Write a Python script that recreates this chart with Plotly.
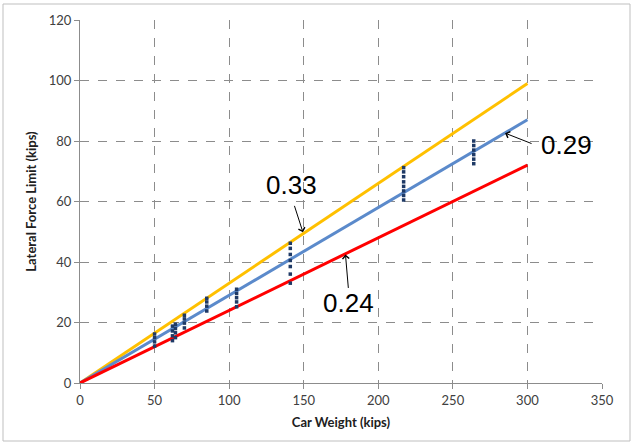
import plotly.graph_objects as go

# Measured data: car weight (kips) and lateral force limit (kips)
weight_50 = [50, 50, 50, 50]
force_50 = [12.2, 13.6, 15.0, 16.2]
weight_62 = [62, 62, 62, 62]
force_62 = [14.0, 15.6, 17.2, 18.8]
weight_64 = [64, 64, 64, 64]
force_64 = [15.0, 16.6, 18.0, 19.4]
weight_70 = [70, 70, 70, 70]
force_70 = [18.2, 19.8, 21.2, 22.4]
weight_85 = [85, 85, 85, 85]
force_85 = [23.8, 25.4, 26.8, 28.0]
weight_105 = [105, 105, 105, 105, 105]
force_105 = [25.2, 26.8, 28.2, 29.6, 31.0]
weight_141 = [141, 141, 141, 141, 141, 141, 141]
force_141 = [33.0, 36.0, 38.5, 40.5, 42.5, 44.5, 46.2]
weight_217 = [217] * 8
force_217 = [60.5, 62.0, 63.5, 65.0, 66.5, 68.2, 69.8, 71.2]
weight_264 = [264] * 6
force_264 = [72.5, 74.0, 75.5, 77.0, 78.5, 80.0]

# Limit lines (coefficient of friction lines)
line_x = [0, 300]
line_033 = [0, 99]
line_029 = [0, 87]
line_024 = [0, 72]

x_ticks = [0, 50, 100, 150, 200, 250, 300, 350]
y_ticks = [0, 20, 40, 60, 80, 100, 120]

pts_x = (weight_50 + weight_62 + weight_64 + weight_70 + weight_85 +
         weight_105 + weight_141 + weight_217 + weight_264)
pts_y = (force_50 + force_62 + force_64 + force_70 + force_85 +
         force_105 + force_141 + force_217 + force_264)

fig = go.Figure()
fig.add_trace(go.Scatter(x=line_x, y=line_033, mode="lines",
                         line=dict(color="#FFC000", width=3), showlegend=False))
fig.add_trace(go.Scatter(x=line_x, y=line_029, mode="lines",
                         line=dict(color="#5B8ACB", width=3), showlegend=False))
fig.add_trace(go.Scatter(x=line_x, y=line_024, mode="lines",
                         line=dict(color="#FF0000", width=3), showlegend=False))
fig.add_trace(go.Scatter(x=pts_x, y=pts_y, mode="markers",
                         marker=dict(symbol="square", size=3.5, color="#1F3A66"),
                         showlegend=False))

font_main = "Lato, Open Sans, sans-serif"

fig.update_layout(
    width=633, height=444,
    margin=dict(l=80, r=31, t=20, b=61),
    paper_bgcolor="white", plot_bgcolor="white",
    font=dict(family=font_main, size=13, color="#404040"),
    xaxis=dict(range=[0, 350], tickvals=x_ticks, showgrid=True,
               gridcolor="#8C8C8C", griddash="dash", gridwidth=1,
               showline=True, linecolor="#8C8C8C", linewidth=1,
               ticks="outside", ticklen=5, tickcolor="#8C8C8C",
               zeroline=False, tickfont=dict(size=13, color="#404040"),
               title=dict(text="<b>Car Weight (kips)</b>",
                          font=dict(size=13, color="#202020"), standoff=11)),
    yaxis=dict(range=[0, 120], tickvals=y_ticks, showgrid=True,
               gridcolor="#8C8C8C", griddash="dash", gridwidth=1,
               showline=True, linecolor="#8C8C8C", linewidth=1,
               ticks="outside", ticklen=5, tickcolor="#8C8C8C",
               zeroline=False, tickfont=dict(size=13, color="#404040"),
               title=dict(text="<b>Lateral Force Limit (kips)</b>",
                          font=dict(size=13, color="#202020"), standoff=9)),
)

ann_font = dict(family="Liberation Sans, Arial, sans-serif", size=26, color="black")
# 0.33
fig.add_annotation(x=149.5, y=49.8, ax=-9, ay=-28, text="", showarrow=True,
                   arrowhead=4, arrowsize=1.3, arrowwidth=1, arrowcolor="black",
                   standoff=0)
fig.add_annotation(x=142, y=65.5, text="0.33", showarrow=False, font=ann_font,
                   xanchor="center", yanchor="middle")
# 0.29
fig.add_annotation(x=285, y=82.6, ax=28, ay=11, text="", showarrow=True,
                   arrowhead=4, arrowsize=1.3, arrowwidth=1, arrowcolor="black")
fig.add_annotation(x=326, y=78.8, text="0.29", showarrow=False, font=ann_font,
                   xanchor="center", yanchor="middle")
# 0.24
fig.add_annotation(x=178, y=42.5, ax=3, ay=35, text="", showarrow=True,
                   arrowhead=4, arrowsize=1.3, arrowwidth=1, arrowcolor="black")
fig.add_annotation(x=180, y=26.5, text="0.24", showarrow=False, font=ann_font,
                   xanchor="center", yanchor="middle")

# outer chart border
fig.add_shape(type="rect", xref="paper", yref="paper",
              x0=(3 - 80) / 522, x1=(630 - 80) / 522,
              y0=(383 - 441) / 363, y1=1 + (20 - 4) / 363,
              line=dict(color="#BFBFBF", width=1), layer="below")

fig.write_html("out.html")
